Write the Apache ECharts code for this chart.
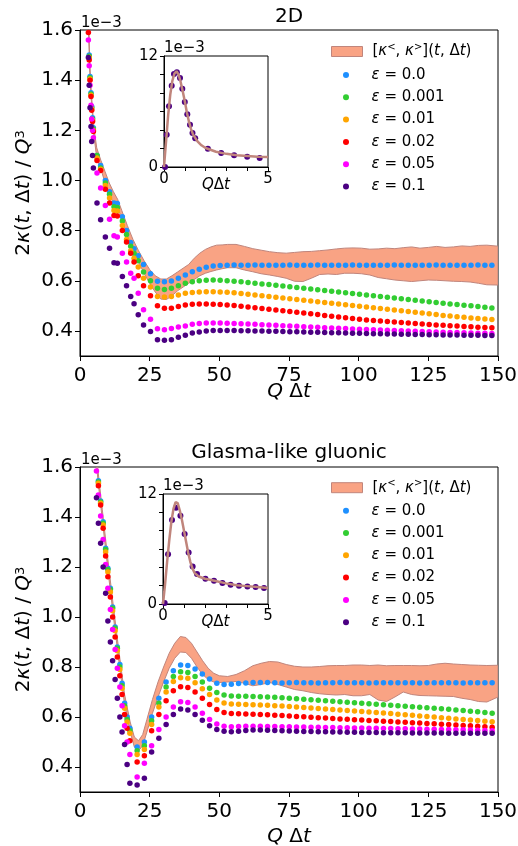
<!DOCTYPE html>
<html>
<head>
<meta charset="utf-8">
<script src="https://cdn.jsdelivr.net/npm/echarts@6/dist/echarts.min.js"></script>
<style>html,body{margin:0;padding:0;background:#fff}#chart{width:518px;height:846px}</style>
</head>
<body>
<div id="chart"></div>
<script>
// --- data (values in units of 1e-3) ---
var epsNames = ['0.0', '0.001', '0.01', '0.02', '0.05', '0.1'];
var epsColors = ['#1E90FF', '#32CD32', '#FFA500', '#FF0000', '#FF00FF', '#4B0082'];

// 2D panel
var topX = [3.0, 3.3, 3.6, 3.95, 4.2, 4.5, 4.8, 6.1, 7.4, 9.1, 10.6, 12.2, 13.4, 15.2, 16.7, 18.2, 19.4, 20.9,
  22.8, 25.3, 27.8, 30.3, 32.8, 35.3, 37.8, 40.3, 42.8, 45.3, 47.8, 50.3,
  52.8, 55.3, 57.8, 60.3, 62.8, 65.3, 67.8, 70.3, 72.8, 75.3,
  77.8, 80.3, 82.8, 85.3, 87.8, 90.3, 92.8, 95.3, 97.8, 100.3,
  102.8, 105.3, 107.8, 110.3, 112.8, 115.3, 117.8, 120.3, 122.8, 125.3,
  127.8, 130.3, 132.8, 135.3, 137.8, 140.3, 142.8, 145.3, 147.8];
var topBlue = [1.65, 1.50, 1.415, 1.35, 1.295, 1.25, 1.21, 1.10, 1.06, 1.00, 0.955, 0.91, 0.908, 0.855, 0.80, 0.753, 0.728, 0.70,
  0.665, 0.628, 0.598, 0.596, 0.599, 0.61, 0.623, 0.636, 0.646, 0.654, 0.659, 0.661,
  0.662, 0.663, 0.662, 0.662, 0.663, 0.662, 0.662, 0.662, 0.662, 0.663,
  0.662, 0.662, 0.662, 0.663, 0.662, 0.662, 0.662, 0.662, 0.663, 0.662,
  0.662, 0.662, 0.662, 0.662, 0.663, 0.662, 0.662, 0.662, 0.662, 0.662,
  0.663, 0.662, 0.662, 0.662, 0.662, 0.662, 0.663, 0.662, 0.662];
var topGreen = [1.65, 1.495, 1.41, 1.345, 1.29, 1.245, 1.205, 1.10, 1.05, 0.99, 0.945, 0.895, 0.892, 0.838, 0.785, 0.738, 0.71, 0.68,
  0.635, 0.60, 0.57, 0.565, 0.57, 0.58, 0.59, 0.596, 0.60, 0.602, 0.603, 0.602,
  0.600, 0.598, 0.596, 0.593, 0.590, 0.587, 0.585, 0.582, 0.579, 0.576,
  0.573, 0.570, 0.567, 0.564, 0.561, 0.558, 0.555, 0.552, 0.549, 0.546,
  0.543, 0.540, 0.537, 0.534, 0.531, 0.528, 0.525, 0.522, 0.519, 0.516,
  0.513, 0.510, 0.507, 0.505, 0.502, 0.500, 0.497, 0.494, 0.491];
var topOrange = [1.65, 1.49, 1.405, 1.34, 1.285, 1.24, 1.20, 1.09, 1.045, 0.98, 0.93, 0.88, 0.878, 0.82, 0.765, 0.72, 0.69, 0.655,
  0.61, 0.575, 0.537, 0.535, 0.537, 0.543, 0.55, 0.553, 0.555, 0.556, 0.556, 0.555,
  0.554, 0.552, 0.549, 0.546, 0.543, 0.540, 0.537, 0.534, 0.531, 0.528,
  0.525, 0.522, 0.519, 0.516, 0.513, 0.510, 0.507, 0.504, 0.501, 0.498,
  0.495, 0.492, 0.489, 0.486, 0.483, 0.480, 0.477, 0.474, 0.471, 0.468,
  0.465, 0.462, 0.460, 0.457, 0.455, 0.452, 0.450, 0.448, 0.446];
var topRed = [1.59, 1.48, 1.40, 1.335, 1.28, 1.235, 1.195, 1.08, 1.04, 0.965, 0.91, 0.86, 0.858, 0.80, 0.755, 0.71, 0.675, 0.62,
  0.58, 0.54, 0.50, 0.49, 0.49, 0.497, 0.503, 0.506, 0.507, 0.507, 0.506, 0.505,
  0.503, 0.501, 0.498, 0.495, 0.492, 0.489, 0.486, 0.483, 0.480, 0.477,
  0.474, 0.471, 0.468, 0.465, 0.462, 0.459, 0.456, 0.453, 0.450, 0.447,
  0.444, 0.442, 0.440, 0.438, 0.436, 0.434, 0.432, 0.430, 0.428, 0.426,
  0.424, 0.423, 0.421, 0.420, 0.418, 0.417, 0.415, 0.414, 0.413];
var topMagenta = [1.56, 1.457, 1.38, 1.30, 1.245, 1.20, 1.17, 1.03, 0.97, 0.90, 0.845, 0.78, 0.775, 0.71, 0.675, 0.63, 0.61, 0.55,
  0.484, 0.447, 0.409, 0.405, 0.41, 0.416, 0.42, 0.427, 0.43, 0.432, 0.432, 0.432,
  0.431, 0.430, 0.429, 0.428, 0.427, 0.425, 0.424, 0.423, 0.421, 0.420,
  0.419, 0.417, 0.416, 0.415, 0.413, 0.412, 0.411, 0.410, 0.408, 0.407,
  0.406, 0.405, 0.404, 0.403, 0.402, 0.401, 0.400, 0.399, 0.398, 0.397,
  0.396, 0.395, 0.394, 0.394, 0.393, 0.392, 0.391, 0.391, 0.390];
var topPurple = [1.49, 1.38, 1.29, 1.215, 1.155, 1.10, 1.05, 0.91, 0.843, 0.775, 0.73, 0.672, 0.67, 0.617, 0.58, 0.537, 0.508, 0.464,
  0.424, 0.398, 0.365, 0.363, 0.365, 0.375, 0.383, 0.392, 0.396, 0.40, 0.402, 0.402,
  0.402, 0.402, 0.401, 0.401, 0.400, 0.400, 0.399, 0.399, 0.398, 0.397,
  0.397, 0.396, 0.395, 0.395, 0.394, 0.393, 0.393, 0.392, 0.391, 0.391,
  0.390, 0.389, 0.389, 0.388, 0.388, 0.387, 0.387, 0.386, 0.386, 0.385,
  0.385, 0.384, 0.384, 0.384, 0.383, 0.383, 0.383, 0.382, 0.382];
var topBandX = [3.0, 3.5, 4.0, 5.0, 6.0, 7.5, 9.0, 10.5, 12.0, 13.5,
  15, 17, 19, 21, 23, 25, 27, 29, 31, 33,
  35, 37, 39, 41, 43, 45, 47, 49, 51, 53,
  56, 59, 62, 65, 68, 71, 74, 77, 80, 83,
  86, 89, 92, 95, 98, 101, 104, 107, 110, 113,
  116, 119, 122, 125, 128, 131, 134, 137, 140, 143, 146, 150];
var topBandHi = [1.70, 1.47, 1.36, 1.21, 1.13, 1.08, 1.035, 0.99, 0.955, 0.925,
  0.88, 0.82, 0.765, 0.72, 0.68, 0.645, 0.62, 0.607, 0.607, 0.62,
  0.635, 0.65, 0.665, 0.69, 0.71, 0.725, 0.735, 0.742, 0.743, 0.745,
  0.745, 0.737, 0.728, 0.722, 0.716, 0.712, 0.71, 0.713, 0.716, 0.717,
  0.72, 0.723, 0.727, 0.73, 0.731, 0.73, 0.726, 0.727, 0.73, 0.728,
  0.732, 0.735, 0.73, 0.733, 0.737, 0.733, 0.735, 0.739, 0.737, 0.741, 0.742, 0.738];
var topBandLo = [1.62, 1.43, 1.33, 1.18, 1.09, 1.045, 0.99, 0.945, 0.91, 0.895,
  0.845, 0.78, 0.725, 0.675, 0.63, 0.59, 0.555, 0.527, 0.525, 0.54,
  0.56, 0.575, 0.59, 0.605, 0.62, 0.63, 0.637, 0.643, 0.648, 0.652,
  0.652, 0.643, 0.636, 0.628, 0.623, 0.617, 0.61, 0.598, 0.597, 0.61,
  0.625, 0.627, 0.625, 0.63, 0.63, 0.628, 0.623, 0.613, 0.608, 0.603,
  0.6, 0.597, 0.6, 0.603, 0.602, 0.6, 0.598, 0.597, 0.595, 0.59, 0.584, 0.583];

// Glasma-like gluonic panel
var botX = [5.9, 6.6, 7.4, 8.3, 9.2, 10.0, 10.9, 11.7, 12.6, 13.4, 14.3, 15.1, 16.0, 16.9, 17.9,
  20.5, 23.1, 25.7, 28.3, 30.9, 33.5, 36.1, 38.7, 41.3, 43.9, 46.5, 49.1, 51.7, 54.3,
  56.9, 59.5, 62.1, 64.7, 67.3, 69.9, 72.5, 75.1, 77.7, 80.3,
  82.9, 85.5, 88.1, 90.7, 93.3, 95.9, 98.5, 101.1, 103.7, 106.3,
  108.9, 111.5, 114.1, 116.7, 119.3, 121.9, 124.5, 127.1, 129.7, 132.3,
  134.9, 137.5, 140.1, 142.7, 145.3, 147.9];
var botBlue = [1.66, 1.545, 1.464, 1.381, 1.275, 1.195, 1.115, 1.04, 0.96, 0.88, 0.81, 0.735, 0.655, 0.60, 0.555,
  0.48, 0.50, 0.60, 0.675, 0.74, 0.785, 0.808, 0.806, 0.792, 0.772, 0.752, 0.735, 0.73, 0.731,
  0.734, 0.736, 0.738, 0.738, 0.738, 0.737, 0.736, 0.737, 0.738, 0.737,
  0.737, 0.736, 0.737, 0.737, 0.738, 0.737, 0.737, 0.737, 0.736, 0.737,
  0.737, 0.737, 0.737, 0.737, 0.737, 0.736, 0.737, 0.737, 0.737, 0.737,
  0.737, 0.736, 0.737, 0.737, 0.737, 0.737];
var botGreen = [1.655, 1.54, 1.46, 1.375, 1.27, 1.19, 1.11, 1.035, 0.955, 0.875, 0.80, 0.725, 0.645, 0.59, 0.545,
  0.465, 0.485, 0.585, 0.655, 0.72, 0.762, 0.781, 0.778, 0.762, 0.74, 0.715, 0.698, 0.688, 0.684,
  0.683, 0.683, 0.682, 0.681, 0.680, 0.679, 0.677, 0.675, 0.673, 0.671,
  0.669, 0.667, 0.665, 0.663, 0.661, 0.659, 0.657, 0.655, 0.653, 0.651,
  0.649, 0.647, 0.645, 0.643, 0.641, 0.639, 0.637, 0.635, 0.633, 0.631,
  0.628, 0.626, 0.623, 0.621, 0.618, 0.615];
var botOrange = [1.65, 1.535, 1.455, 1.368, 1.26, 1.18, 1.10, 1.025, 0.945, 0.865, 0.79, 0.715, 0.635, 0.58, 0.535,
  0.45, 0.47, 0.57, 0.64, 0.70, 0.742, 0.757, 0.755, 0.737, 0.713, 0.69, 0.668, 0.656, 0.652,
  0.651, 0.650, 0.649, 0.648, 0.647, 0.645, 0.644, 0.642, 0.640, 0.638,
  0.636, 0.634, 0.632, 0.630, 0.628, 0.626, 0.624, 0.622, 0.620, 0.618,
  0.616, 0.614, 0.611, 0.609, 0.607, 0.604, 0.602, 0.600, 0.597, 0.595,
  0.592, 0.590, 0.588, 0.586, 0.583, 0.581];
var botRed = [1.64, 1.525, 1.448, 1.355, 1.244, 1.161, 1.08, 1.00, 0.92, 0.84, 0.765, 0.69, 0.61, 0.555, 0.505,
  0.42, 0.445, 0.545, 0.61, 0.665, 0.705, 0.721, 0.718, 0.70, 0.675, 0.65, 0.63, 0.618, 0.614,
  0.613, 0.612, 0.611, 0.610, 0.609, 0.607, 0.606, 0.604, 0.602, 0.601,
  0.599, 0.597, 0.596, 0.594, 0.592, 0.591, 0.589, 0.588, 0.586, 0.585,
  0.583, 0.582, 0.580, 0.579, 0.577, 0.576, 0.574, 0.573, 0.571, 0.570,
  0.568, 0.566, 0.565, 0.563, 0.561, 0.559];
var botMagenta = [1.584, 1.488, 1.404, 1.31, 1.21, 1.115, 1.03, 0.95, 0.87, 0.795, 0.72, 0.645, 0.565, 0.50, 0.45,
  0.36, 0.415, 0.485, 0.55, 0.60, 0.64, 0.661, 0.658, 0.64, 0.615, 0.59, 0.572, 0.563, 0.561,
  0.562, 0.563, 0.563, 0.563, 0.562, 0.562, 0.561, 0.561, 0.560, 0.560,
  0.559, 0.559, 0.558, 0.558, 0.557, 0.557, 0.556, 0.556, 0.555, 0.555,
  0.554, 0.554, 0.553, 0.553, 0.552, 0.552, 0.551, 0.551, 0.550, 0.550,
  0.549, 0.549, 0.548, 0.547, 0.546, 0.545];
var botPurple = [1.477, 1.375, 1.295, 1.20, 1.095, 0.984, 0.90, 0.825, 0.75, 0.675, 0.60, 0.54, 0.49, 0.41, 0.335,
  0.328, 0.355, 0.46, 0.515, 0.57, 0.61, 0.632, 0.628, 0.61, 0.587, 0.565, 0.55, 0.543, 0.541,
  0.543, 0.546, 0.548, 0.548, 0.547, 0.546, 0.545, 0.544, 0.543, 0.542,
  0.542, 0.541, 0.541, 0.540, 0.540, 0.539, 0.539, 0.538, 0.538, 0.538,
  0.537, 0.537, 0.537, 0.537, 0.536, 0.536, 0.536, 0.536, 0.536, 0.535,
  0.535, 0.535, 0.535, 0.535, 0.535, 0.535];
var botBandX = [5.5, 6.5, 8, 10, 12, 14, 16, 18, 19.5, 21,
  22.5, 24, 26, 28, 30, 32, 34, 36, 38, 40,
  42, 44, 46, 48, 50, 53, 56, 59, 62, 65,
  68, 71, 74, 77, 80, 83, 86, 89, 92, 95,
  98, 101, 104, 107, 110, 113, 116, 119, 122, 125,
  128, 131, 134, 137, 140, 143, 146, 150];
var botBandHi = [1.70, 1.58, 1.43, 1.23, 1.04, 0.86, 0.69, 0.58, 0.52, 0.505,
  0.53, 0.59, 0.67, 0.74, 0.80, 0.855, 0.895, 0.922, 0.918, 0.895,
  0.86, 0.825, 0.795, 0.775, 0.765, 0.762, 0.77, 0.785, 0.805, 0.815,
  0.822, 0.82, 0.81, 0.803, 0.80, 0.80, 0.802, 0.805, 0.806, 0.806,
  0.808, 0.808, 0.806, 0.808, 0.805, 0.806, 0.806, 0.806, 0.805, 0.806,
  0.812, 0.815, 0.812, 0.81, 0.808, 0.807, 0.806, 0.807];
var botBandLo = [1.66, 1.54, 1.39, 1.19, 1.00, 0.82, 0.65, 0.54, 0.48, 0.465,
  0.485, 0.54, 0.615, 0.68, 0.74, 0.795, 0.835, 0.86, 0.858, 0.835,
  0.80, 0.77, 0.75, 0.74, 0.738, 0.74, 0.742, 0.735, 0.725, 0.73,
  0.738, 0.73, 0.72, 0.71, 0.705, 0.698, 0.693, 0.69, 0.688, 0.69,
  0.685, 0.685, 0.69, 0.668, 0.662, 0.68, 0.70, 0.69, 0.686, 0.685,
  0.684, 0.683, 0.682, 0.675, 0.67, 0.662, 0.66, 0.68];

// insets
var insTopX = [0.05, 0.13, 0.24, 0.37, 0.48, 0.62, 0.77, 0.88, 1.0, 1.12, 1.25, 1.37, 1.5, 2.11, 2.75, 3.37, 4.0, 4.6];
var insTopY = [0, 3.5, 6.56, 8.78, 10.05, 10.23, 9.62, 8.46, 7.03, 5.7, 4.58, 3.68, 3.1, 1.98, 1.52, 1.26, 1.12, 0.98];
var insTopCurveX = [0, 0.1, 0.2, 0.3, 0.4, 0.5, 0.6, 0.7, 0.8, 0.9, 1.0, 1.1, 1.2, 1.3, 1.4, 1.6, 1.8, 2.0, 2.5, 3.0, 3.5, 4.0, 4.5, 5.0];
var insTopCurveY = [0, 2.8, 5.6, 7.8, 9.3, 10.1, 10.35, 10.0, 9.2, 8.2, 7.1, 5.9, 4.9, 4.1, 3.5, 2.8, 2.35, 2.05, 1.65, 1.42, 1.28, 1.2, 1.12, 1.08];
var insBotX = [0.08, 0.24, 0.43, 0.62, 0.83, 1.03, 1.22, 1.41, 1.62, 2.02, 2.43, 2.83, 3.22, 3.62, 4.02, 4.41, 4.81];
var insBotY = [0.1, 5.44, 9.17, 10.5, 9.64, 7.65, 5.62, 4.1, 3.27, 2.75, 2.54, 2.28, 2.1, 1.99, 1.92, 1.85, 1.74];
var insBotCurveX = [0, 0.1, 0.2, 0.3, 0.4, 0.5, 0.6, 0.7, 0.8, 0.9, 1.0, 1.1, 1.2, 1.3, 1.4, 1.5, 1.7, 2.0, 2.5, 3.0, 3.5, 4.0, 4.5, 5.0];
var insBotCurveY = [0, 2.2, 4.7, 7.0, 9.0, 10.4, 11.1, 11.0, 10.2, 9.2, 8.0, 6.8, 5.6, 4.6, 3.9, 3.4, 3.0, 2.75, 2.5, 2.25, 2.05, 1.95, 1.85, 1.75];

var mainYTicks = [0.4, 0.6, 0.8, 1.0, 1.2, 1.4, 1.6];

// --- styling ---
var FONT = '"DejaVu Sans", sans-serif';
var BAND_FILL = '#F9A384';
var BAND_EDGE = '#C0857C';

function pairs(xs, ys) {
  return xs.map(function (x, i) { return [x, ys[i]]; });
}

function bandSeries(g, xs, lo, hi) {
  return {
    type: 'custom', name: 'band', xAxisIndex: g, yAxisIndex: g, silent: true,
    data: [[xs[0], lo[0]]],
    itemStyle: { color: BAND_FILL },
    renderItem: function (params, api) {
      var pts = [];
      for (var i = 0; i < xs.length; i++) pts.push(api.coord([xs[i], hi[i]]));
      for (var j = xs.length - 1; j >= 0; j--) pts.push(api.coord([xs[j], lo[j]]));
      var cs = params.coordSys;
      return {
        type: 'polygon',
        shape: { points: pts },
        style: { fill: BAND_FILL, stroke: BAND_EDGE, lineWidth: 1 },
        clipPath: { type: 'rect', shape: { x: cs.x, y: cs.y, width: cs.width, height: cs.height } }
      };
    }
  };
}

var richBase = {
  n: { fontFamily: FONT, fontSize: 20, color: '#000' },
  i: { fontFamily: FONT, fontSize: 20, fontStyle: 'italic', color: '#000' },
  sup: { fontFamily: FONT, fontSize: 13, color: '#000', verticalAlign: 'top' }
};
var richSmall = {
  n: { fontFamily: FONT, fontSize: 15, color: '#000' },
  i: { fontFamily: FONT, fontSize: 15, fontStyle: 'italic', color: '#000' }
};
var richLegend = {
  n: { fontFamily: FONT, fontSize: 15, color: '#000', lineHeight: 18 },
  i: { fontFamily: FONT, fontSize: 15, fontStyle: 'italic', color: '#000', lineHeight: 18 },
  sup: { fontFamily: FONT, fontSize: 10, color: '#000', verticalAlign: 'top', lineHeight: 18 }
};

function mainX(g, gap) {
  return {
    type: 'value', gridIndex: g, min: 0, max: 150, interval: 25,
    axisLine: { show: true, onZero: false, lineStyle: { color: '#000', width: 1 } },
    axisTick: { show: true, length: 5, lineStyle: { color: '#000' } },
    axisLabel: { fontFamily: FONT, fontSize: 20, color: '#000', margin: 10 },
    splitLine: { show: false },
    name: '{i|Q}{n| Δ}{i|t}', nameLocation: 'middle', nameGap: gap, nameMoveOverlap: false,
    nameTextStyle: { rich: richBase }
  };
}
function mainY(g) {
  return {
    type: 'value', gridIndex: g, min: 0.3, max: 1.6,
    axisLine: { show: true, onZero: false, lineStyle: { color: '#000', width: 1 } },
    axisTick: { show: true, length: 5, lineStyle: { color: '#000' }, customValues: mainYTicks },
    axisLabel: {
      fontFamily: FONT, fontSize: 20, color: '#000', margin: 7, customValues: mainYTicks,
      formatter: function (v) { return v.toFixed(1); }
    },
    splitLine: { show: false },
    name: '{n|2}{i|κ}{n|(}{i|t}{n|, Δ}{i|t}{n|) / }{i|Q}{sup|3}', nameLocation: 'middle', nameGap: 46,
    nameRotate: 90, nameMoveOverlap: false,
    nameTextStyle: { rich: richBase }
  };
}
function insetX(g) {
  return {
    type: 'value', gridIndex: g, min: 0, max: 5, interval: 1,
    axisLine: { show: true, onZero: false, lineStyle: { color: '#000', width: 1 } },
    axisTick: { show: true, length: 4, lineStyle: { color: '#000' } },
    axisLabel: { fontFamily: FONT, fontSize: 15, color: '#000', margin: 5, customValues: [0, 5] },
    splitLine: { show: false },
    name: '{i|Q}{n|Δ}{i|t}', nameLocation: 'middle', nameGap: 11, nameMoveOverlap: false,
    nameTextStyle: { rich: richSmall }
  };
}
function insetY(g) {
  return {
    type: 'value', gridIndex: g, min: 0, max: 12, interval: 2,
    axisLine: { show: true, onZero: false, lineStyle: { color: '#000', width: 1 } },
    axisTick: { show: true, length: 4, lineStyle: { color: '#000' } },
    axisLabel: { fontFamily: FONT, fontSize: 15, color: '#000', margin: 6, customValues: [0, 12] },
    splitLine: { show: false }
  };
}

var series = [];
function addPanel(g, xs, ys, bx, blo, bhi) {
  series.push(bandSeries(g, bx, blo, bhi));
  ys.forEach(function (arr, k) {
    series.push({
      type: 'scatter', name: epsNames[k], xAxisIndex: g, yAxisIndex: g,
      data: pairs(xs, arr), symbolSize: 5.5,
      itemStyle: { color: epsColors[k], opacity: 1 }
    });
  });
}
function addInset(g, cx, cy, px, py) {
  series.push({
    type: 'line', name: 'band', xAxisIndex: g, yAxisIndex: g, data: pairs(cx, cy),
    showSymbol: false, smooth: false, silent: true,
    lineStyle: { color: BAND_EDGE, width: 2.5 }, itemStyle: { color: BAND_FILL }
  });
  series.push({
    type: 'scatter', name: '0.1', xAxisIndex: g, yAxisIndex: g, data: pairs(px, py),
    symbolSize: 6, itemStyle: { color: epsColors[5], opacity: 1 }
  });
}

addPanel(0, topX, [topBlue, topGreen, topOrange, topRed, topMagenta, topPurple], topBandX, topBandLo, topBandHi);
addPanel(1, botX, [botBlue, botGreen, botOrange, botRed, botMagenta, botPurple], botBandX, botBandLo, botBandHi);
addInset(2, insTopCurveX, insTopCurveY, insTopX, insTopY);
addInset(3, insBotCurveX, insBotCurveY, insBotX, insBotY);

function legendText(name) {
  if (name === 'band') return '{n|[}{i|κ}{sup|<}{n|, }{i|κ}{sup|>}{n|](}{i|t}{n|, Δ}{i|t}{n|)}';
  return '{i|ε}{n| = ' + name + '}';
}
function legends(bandTop, epsTop) {
  var ts = { fontFamily: FONT, fontSize: 15, color: '#000', lineHeight: 18, padding: [0, 0, 0, 5], rich: richLegend };
  return [{
    left: 331, top: bandTop, orient: 'vertical', padding: 0, selectedMode: false,
    itemWidth: 31, itemHeight: 10, formatter: legendText, textStyle: ts,
    data: [{ name: 'band', icon: 'rect', itemStyle: { color: BAND_FILL, borderColor: BAND_EDGE, borderWidth: 1 } }]
  }, {
    left: 343, top: epsTop, orient: 'vertical', padding: 0, selectedMode: false,
    itemWidth: 31, itemHeight: 6, itemGap: 4.3, icon: 'circle', formatter: legendText, textStyle: ts,
    data: epsNames
  }];
}

function txt(t, x, y, size, align, valign) {
  return {
    type: 'text', x: x, y: y, silent: true,
    style: { text: t, font: size + 'px ' + FONT, fill: '#000',
      align: align, verticalAlign: valign, textAlign: align, textVerticalAlign: valign }
  };
}

var option = {
  animation: false,
  backgroundColor: '#fff',
  grid: [
    { left: 80, top: 30, width: 418, height: 326, show: true, borderColor: '#000', borderWidth: 1, backgroundColor: 'transparent', containLabel: false, outerBoundsMode: 'none' },
    { left: 80, top: 467, width: 418, height: 325, show: true, borderColor: '#000', borderWidth: 1, backgroundColor: 'transparent', containLabel: false, outerBoundsMode: 'none' },
    { left: 164, top: 56, width: 104, height: 111, show: true, borderColor: '#000', borderWidth: 1, backgroundColor: '#fff', containLabel: false, outerBoundsMode: 'none' },
    { left: 163, top: 494, width: 105, height: 110, show: true, borderColor: '#000', borderWidth: 1, backgroundColor: '#fff', containLabel: false, outerBoundsMode: 'none' }
  ],
  xAxis: [mainX(0, 26), mainX(1, 35), insetX(2), insetX(3)],
  yAxis: [mainY(0), mainY(1), insetY(2), insetY(3)],
  legend: legends(42.5, 66).concat(legends(478.7, 501.7)),
  graphic: [
    txt('2D', 289, 17, 20, 'center', 'middle'),
    txt('Glasma-like gluonic', 289, 453, 20, 'center', 'middle'),
    txt('1e\u22123', 81, 31, 15, 'left', 'bottom'),
    txt('1e\u22123', 164, 56, 15, 'left', 'bottom'),
    txt('1e\u22123', 81, 468, 15, 'left', 'bottom'),
    txt('1e\u22123', 163, 494, 15, 'left', 'bottom')
  ],
  series: series
};

var chart = echarts.init(document.getElementById('chart'), null, { renderer: 'canvas' });
chart.setOption(option);
</script>
</body>
</html>
